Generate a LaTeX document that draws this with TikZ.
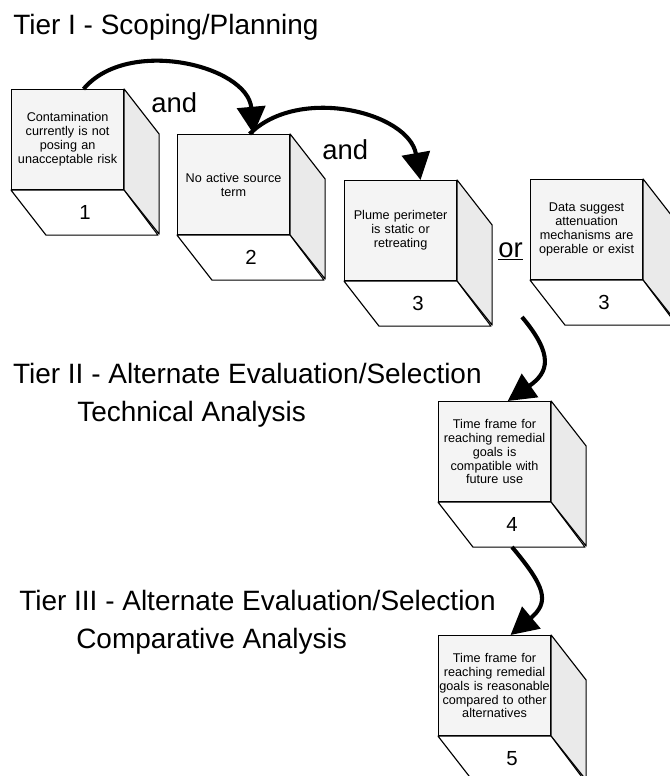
\documentclass[tikz,border=0pt]{standalone}
\usepackage{fontspec}
\setmainfont{Liberation Sans}
\usetikzlibrary{arrows.meta}
\usepackage{xcolor}
\definecolor{frontgray}{HTML}{F4F4F4}
\definecolor{sidegray}{HTML}{EAEAEA}
\hyphenpenalty=10000

\tikzset{
  front/.style={draw, line width=0.8pt, fill=frontgray, anchor=north west,
    minimum width=2.8cm, minimum height=2.5cm, inner sep=0pt,
    text width=2.8cm, align=center, font=\fontsize{9}{9.9}\selectfont},
  sideface/.style={draw, line width=0.8pt, fill=sidegray, line join=round},
  bottomface/.style={draw, line width=0.8pt, fill=white, line join=round},
  num/.style={font=\fontsize{14.5}{16}\selectfont, inner sep=0pt},
  tier/.style={anchor=base west, inner sep=0pt, font=\fontsize{19.9}{24}\selectfont},
  conj/.style={anchor=base west, inner sep=0pt, font=\fontsize{19.5}{24}\selectfont},
  link/.style={line width=2.9pt, -{Triangle[length=0.68cm, width=0.7cm]}}
}

% #1 name, #2 top left corner, #3 text, #4 number
\newcommand{\tiercube}[4]{%
  \node[front] (#1) at (#2) {#3};
  \path[sideface] (#1.north east) -- ++(0.875,-1.125) -- ++(0,-2.5) -- (#1.south east) -- cycle;
  \path[bottomface] (#1.south west) -- ++(0.875,-1.125) -- ++(2.8,0) -- (#1.south east) -- cycle;
  \node[num] (#1n) at ([shift={(0.4375,-0.5625)}]#1.south) {#4};
}

\begin{document}
\begin{tikzpicture}
  \useasboundingbox (0,0) rectangle (16.75,-19.4);

  % tier headings
  \node[tier] (t1) at (0.325,-0.875) {Tier I - Scoping/Planning};
  \node[tier] (t2) at (0.32,-9.575) {Tier II - Alternate Evaluation/Selection};
  \node[tier] (t2b) at (1.925,-10.525) {Technical Analysis};
  \node[tier] (t3) at (0.475,-15.25) {Tier III - Alternate Evaluation/Selection};
  \node[tier] (t3b) at (1.9,-16.2) {Comparative Analysis};

  % criteria
  \tiercube{c1}{0.275,-2.225}{Contamination\\currently is not\\posing an\\unacceptable risk}{1}
  \tiercube{c2}{4.425,-3.35}{No active source\\term}{2}
  \tiercube{c3}{8.6,-4.5}{Plume perimeter\\is static or\\retreating}{3}
  \tiercube{c3a}{13.25,-4.475}{Data suggest\\attenuation\\mechanisms are\\operable or exist}{3}
  \tiercube{c4}{10.95,-10.025}{Time frame for\\reaching remedial\\goals is\\compatible with\\future use}{4}
  \tiercube{c5}{10.95,-15.875}{Time frame for\\reaching remedial\\goals is reasonable\\compared to other\\alternatives}{5}

  \node[conj] (and1) at (3.775,-2.8) {and};
  \node[conj] (and2) at (8.05,-3.975) {and};
  \node[conj] (or) at (12.45,-6.425) {\underline{or}};

  % connectors
  \coordinate (s3) at (13.05,-7.925);
  \coordinate (s4) at (12.8,-13.675);
  \draw[link] ([xshift=0.4cm]c1.north) to[out=50, in=95] ([xshift=0.5cm]c2.north);
  \draw[link] ([xshift=0.4cm]c2.north) to[out=45, in=100] ([xshift=0.5cm]c3.north);
  \draw[link] (s3) to[out=-50, in=35, looseness=1.5] ([xshift=0.33cm]c4.north);
  \draw[link] (s4) to[out=-50, in=40, looseness=1.5] ([xshift=0.4cm]c5.north);
\end{tikzpicture}
\end{document}
